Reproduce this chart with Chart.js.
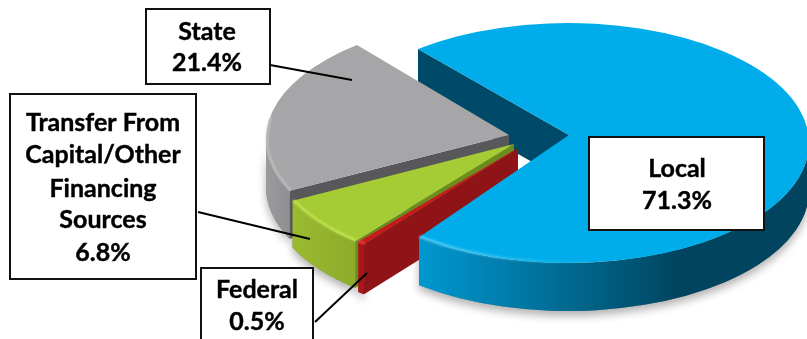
<!DOCTYPE html>
<html>
<head>
<meta charset="utf-8">
<title>Revenue by source</title>
<script src="https://cdn.jsdelivr.net/npm/chart.js@4"></script>
<style>
  html,body{margin:0;padding:0;background:#fff;overflow:hidden}
  #chart{display:block}
</style>
</head>
<body>
<canvas id="chart" width="807" height="339"></canvas>
<script>
const categories=['Local','Federal','Transfer From Capital/Other Financing Sources','State'];
const shares=[71.3,0.5,6.8,21.4];
const sliceColors=['#00ADEA','#C8191F','#A5CC34','#A6A6A8'];

// ellipse + apex of each exploded wedge, in slice order
const solids=[
  {cx:568,cy:143,ax:569,ay:135,depth:48,face:'#004A69',rim:'rgba(120,225,255,.75)',
   wall:[[420,'#0098D0'],[500,'#007FAE'],[600,'#005F82'],[680,'#00445F'],[807,'#00445F']]},
  {cx:513,cy:150,ax:518,ay:148,depth:50,face:'#8F1418',rim:'rgba(255,70,70,.8)',
   wall:[[350,'#B0171C'],[375,'#A01519']]},
  {cx:510,cy:149,ax:514,ay:144,depth:47,face:'#6C8C1E',rim:'rgba(205,235,90,.8)',
   wall:[[285,'#9CBC30'],[365,'#8CA82A']]},
  {cx:507,cy:139,ax:509,ay:135,depth:48,face:'#58585A',rim:'rgba(200,200,202,.7)',
   wall:[[265,'#9C9C9E'],[295,'#8C8C8E']]}
];
const RX=241,RY=120;

// boxes drawn over the pie, with a leader line into their slice
const callouts=[
  {box:[589,137,175,93],x:677,lines:[['Local',177],['71.3%',209]]},
  {box:[201,268,112,80],x:257,lines:[['Federal',298],['0.5%',330]],leader:[315,322,367,273]},
  {box:[10,94,186,185],x:103,lines:[['Transfer From',131],['Capital/Other',163],['Financing',197],['Sources',228],['6.8%',261]],leader:[198,212,310,239]},
  {box:[146,9,124,75],x:207,lines:[['State',40],['21.4%',71]],leader:[270,65,352,80]}
];

// only the part of the outer wall that faces the viewer
function wallPath(ctx,s,a){
  const from=Math.max(a.startAngle,0),to=Math.min(a.endAngle,Math.PI);
  ctx.beginPath();
  ctx.ellipse(s.cx,s.cy,RX,RY,0,from,to);
  ctx.ellipse(s.cx,s.cy+s.depth,RX,RY,0,to,from,true);
  ctx.closePath();
}
function cutFace(ctx,s,a){
  const x=s.cx+RX*Math.cos(a.startAngle),y=s.cy+RY*Math.sin(a.startAngle);
  ctx.beginPath();
  ctx.moveTo(s.ax,s.ay);
  ctx.lineTo(x,y);
  ctx.lineTo(x,y+s.depth);
  ctx.lineTo(s.ax,s.ay+s.depth);
  ctx.closePath();
  ctx.fillStyle=s.face;
  ctx.fill();
}
function wall(ctx,s,a){
  const x0=s.wall[0][0],span=s.wall[s.wall.length-1][0]-x0;
  const g=ctx.createLinearGradient(x0,0,x0+span,0);
  s.wall.forEach(w=>g.addColorStop((w[0]-x0)/span,w[1]));
  wallPath(ctx,s,a);
  ctx.fillStyle=g;
  ctx.fill();
}
function topFace(ctx,s,a){
  ctx.beginPath();
  ctx.moveTo(s.ax,s.ay);
  ctx.ellipse(s.cx,s.cy,RX,RY,0,a.startAngle,a.endAngle);
  ctx.closePath();
  ctx.fillStyle=a.options.backgroundColor;
  ctx.fill();
  // soft light along the front rim
  const from=Math.max(a.startAngle,0),to=Math.min(a.endAngle,Math.PI*1.06);
  if(to<=from)return;
  const x0=s.cx+RX*Math.cos(to),x1=s.cx+RX*Math.cos(from);
  const g=ctx.createLinearGradient(x0,0,Math.max(x1,x0+1),0);
  g.addColorStop(0,s.rim);
  g.addColorStop(s===solids[0]?.45:1,s===solids[0]?'rgba(120,225,255,0)':s.rim);
  if(s===solids[0])g.addColorStop(1,'rgba(120,225,255,0)');
  ctx.save();
  ctx.filter='blur(0.8px)';
  ctx.beginPath();
  ctx.ellipse(s.cx,s.cy,RX-1,RY-1,0,from,to);
  ctx.lineWidth=2.5;
  ctx.strokeStyle=g;
  ctx.stroke();
  ctx.restore();
}

const pie3d={
  id:'pie3d',
  beforeDatasetsDraw(chart){
    const ctx=chart.ctx,arcs=chart.getDatasetMeta(0).data;
    // ground shadow first so it never falls on a slice
    ctx.save();
    ctx.shadowColor='rgba(0,0,0,.3)';
    ctx.shadowBlur=9;
    ctx.shadowOffsetY=5;
    arcs.forEach((a,i)=>{
      wallPath(ctx,solids[i],a);
      ctx.fillStyle='#888';
      ctx.fill();
    });
    ctx.restore();
    cutFace(ctx,solids[0],arcs[0]);
    [3,2,1].forEach(i=>{
      cutFace(ctx,solids[i],arcs[i]);
      wall(ctx,solids[i],arcs[i]);
      topFace(ctx,solids[i],arcs[i]);
    });
    wall(ctx,solids[0],arcs[0]);
    topFace(ctx,solids[0],arcs[0]);
    return false;
  },
  afterDraw(chart){
    const ctx=chart.ctx;
    ctx.save();
    callouts.forEach(c=>{
      if(c.leader){
        ctx.beginPath();
        ctx.moveTo(c.leader[0],c.leader[1]);
        ctx.lineTo(c.leader[2],c.leader[3]);
        ctx.lineWidth=2;
        ctx.strokeStyle='#000';
        ctx.stroke();
      }
      ctx.fillStyle='#fff';
      ctx.fillRect(c.box[0],c.box[1],c.box[2],c.box[3]);
      ctx.lineWidth=2;
      ctx.strokeStyle='#111';
      ctx.strokeRect(c.box[0],c.box[1],c.box[2],c.box[3]);
      ctx.fillStyle='#000';
      ctx.strokeStyle='#000';
      ctx.lineWidth=.4;
      ctx.font='bold 25px Lato';
      ctx.textAlign='center';
      ctx.textBaseline='alphabetic';
      c.lines.forEach(l=>{
        ctx.fillText(l[0],c.x,l[1]);
        ctx.strokeText(l[0],c.x,l[1]);
      });
    });
    ctx.restore();
  }
};

new Chart(document.getElementById('chart'),{
  type:'pie',
  data:{labels:categories,datasets:[{data:shares,backgroundColor:sliceColors,borderWidth:0}]},
  options:{
    responsive:false,
    animation:false,
    rotation:-38.5,
    plugins:{legend:{display:false},tooltip:{enabled:false}}
  },
  plugins:[pie3d]
});
</script>
</body>
</html>
